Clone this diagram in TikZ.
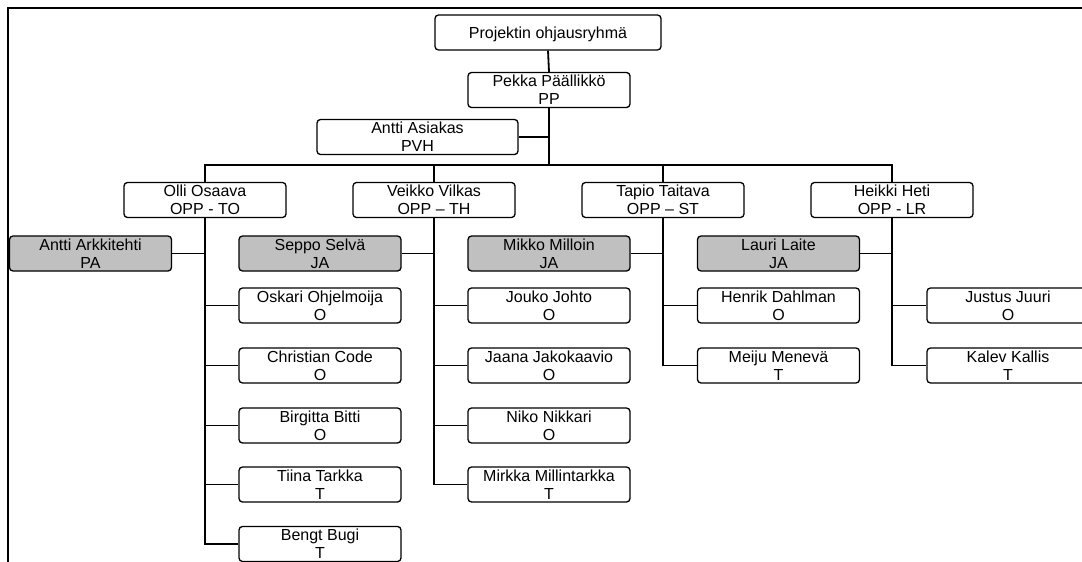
\documentclass[tikz,border=0pt]{standalone}
\usepackage{fontspec}
\setmainfont{Liberation Sans}
\begin{document}
\begin{tikzpicture}[x=1pt,y=-1pt,
  person/.style={draw=black, line width=1.3pt, rounded corners=3.5pt, fill=white,
    minimum width=162pt, minimum height=35pt, inner sep=0pt, align=center,
    font=\fontsize{16}{18}\selectfont,
    execute at begin node={\rule{0pt}{14.5pt}}},
  assistant/.style={person, fill=silverfill},
  link/.style={draw=black, line width=1.8pt},
  bar/.style={draw=black, line width=2.2pt}]
\definecolor{silverfill}{HTML}{C0C0C0}
\useasboundingbox (0,0) rectangle (1082,562);
\clip (0,0) rectangle (1082,562);
% page frame, running off the page on the right and bottom
\draw[line width=2.8pt] (8,8) rectangle (1200,700);

% management
\node[person, minimum width=226pt] (board) at (548,32.5) {Projektin ohjausryhmä};
\node[person] (pekka) at (549,90) {Pekka Päällikkö\\PP};
\node[person, minimum width=201pt] (asiakas) at (417.5,137) {Antti Asiakas\\PVH};
\coordinate (hub) at (549,165);

% team leads
\node[person] (olli) at (205,200) {Olli Osaava\\OPP - TO};
\node[person] (veikko) at (434,200) {Veikko Vilkas\\OPP – TH};
\node[person] (tapio) at (663,200) {Tapio Taitava\\OPP – ST};
\node[person] (heikki) at (892,200) {Heikki Heti\\OPP - LR};

% assistants
\node[assistant] (arkkitehti) at (90.5,253.5) {Antti Arkkitehti\\PA};
\node[assistant] (seppo) at (320,253.5) {Seppo Selvä\\JA};
\node[assistant] (mikko) at (549,253.5) {Mikko Milloin\\JA};
\node[assistant] (lauri) at (778.5,253.5) {Lauri Laite\\JA};

% team of Olli Osaava
\node[person] (oskari) at (320,305.5) {Oskari Ohjelmoija\\O};
\node[person] (christian) at (320,365.5) {Christian Code\\O};
\node[person] (birgitta) at (320,425.5) {Birgitta Bitti\\O};
\node[person] (tiina) at (320,484.5) {Tiina Tarkka\\T};
\node[person] (bengt) at (320,544) {Bengt Bugi\\T};

% team of Veikko Vilkas
\node[person] (jouko) at (549,305.5) {Jouko Johto\\O};
\node[person] (jaana) at (549,365.5) {Jaana Jakokaavio\\O};
\node[person] (niko) at (549,425.5) {Niko Nikkari\\O};
\node[person] (mirkka) at (549,484.5) {Mirkka Millintarkka\\T};

% team of Tapio Taitava
\node[person] (henrik) at (778.5,305.5) {Henrik Dahlman\\O};
\node[person] (meiju) at (778.5,365.5) {Meiju Menevä\\T};

% team of Heikki Heti
\node[person] (justus) at (1008,305.5) {Justus Juuri\\O};
\node[person] (kalev) at (1008,365.5) {Kalev Kallis\\T};

% top of the hierarchy
\draw[link] (board.south) -- (pekka.north);
\draw[bar] (pekka.south) -- (hub);
\draw[link] (asiakas.east) -- (asiakas.east -| pekka.south);
\draw[bar] (olli.north) |- (hub) -| (heikki.north);
\draw[link] (veikko.north) -- (veikko.north |- hub);
\draw[link] (tapio.north) -- (tapio.north |- hub);

% Olli Osaava
\draw[link] (olli.south) |- (bengt.west);
\draw[link] (arkkitehti.east) -- (arkkitehti.east -| olli.south);
\foreach \m in {oskari,christian,birgitta,tiina}
  \draw[link] (\m.west) -- (\m.west -| olli.south);

% Veikko Vilkas
\draw[link] (veikko.south) |- (mirkka.west);
\draw[link] (seppo.east) -- (seppo.east -| veikko.south);
\foreach \m in {jouko,jaana,niko}
  \draw[link] (\m.west) -- (\m.west -| veikko.south);

% Tapio Taitava
\draw[link] (tapio.south) |- (meiju.west);
\draw[link] (mikko.east) -- (mikko.east -| tapio.south);
\draw[link] (henrik.west) -- (henrik.west -| tapio.south);

% Heikki Heti
\draw[link] (heikki.south) |- (kalev.west);
\draw[link] (lauri.east) -- (lauri.east -| heikki.south);
\draw[link] (justus.west) -- (justus.west -| heikki.south);
\end{tikzpicture}
\end{document}
